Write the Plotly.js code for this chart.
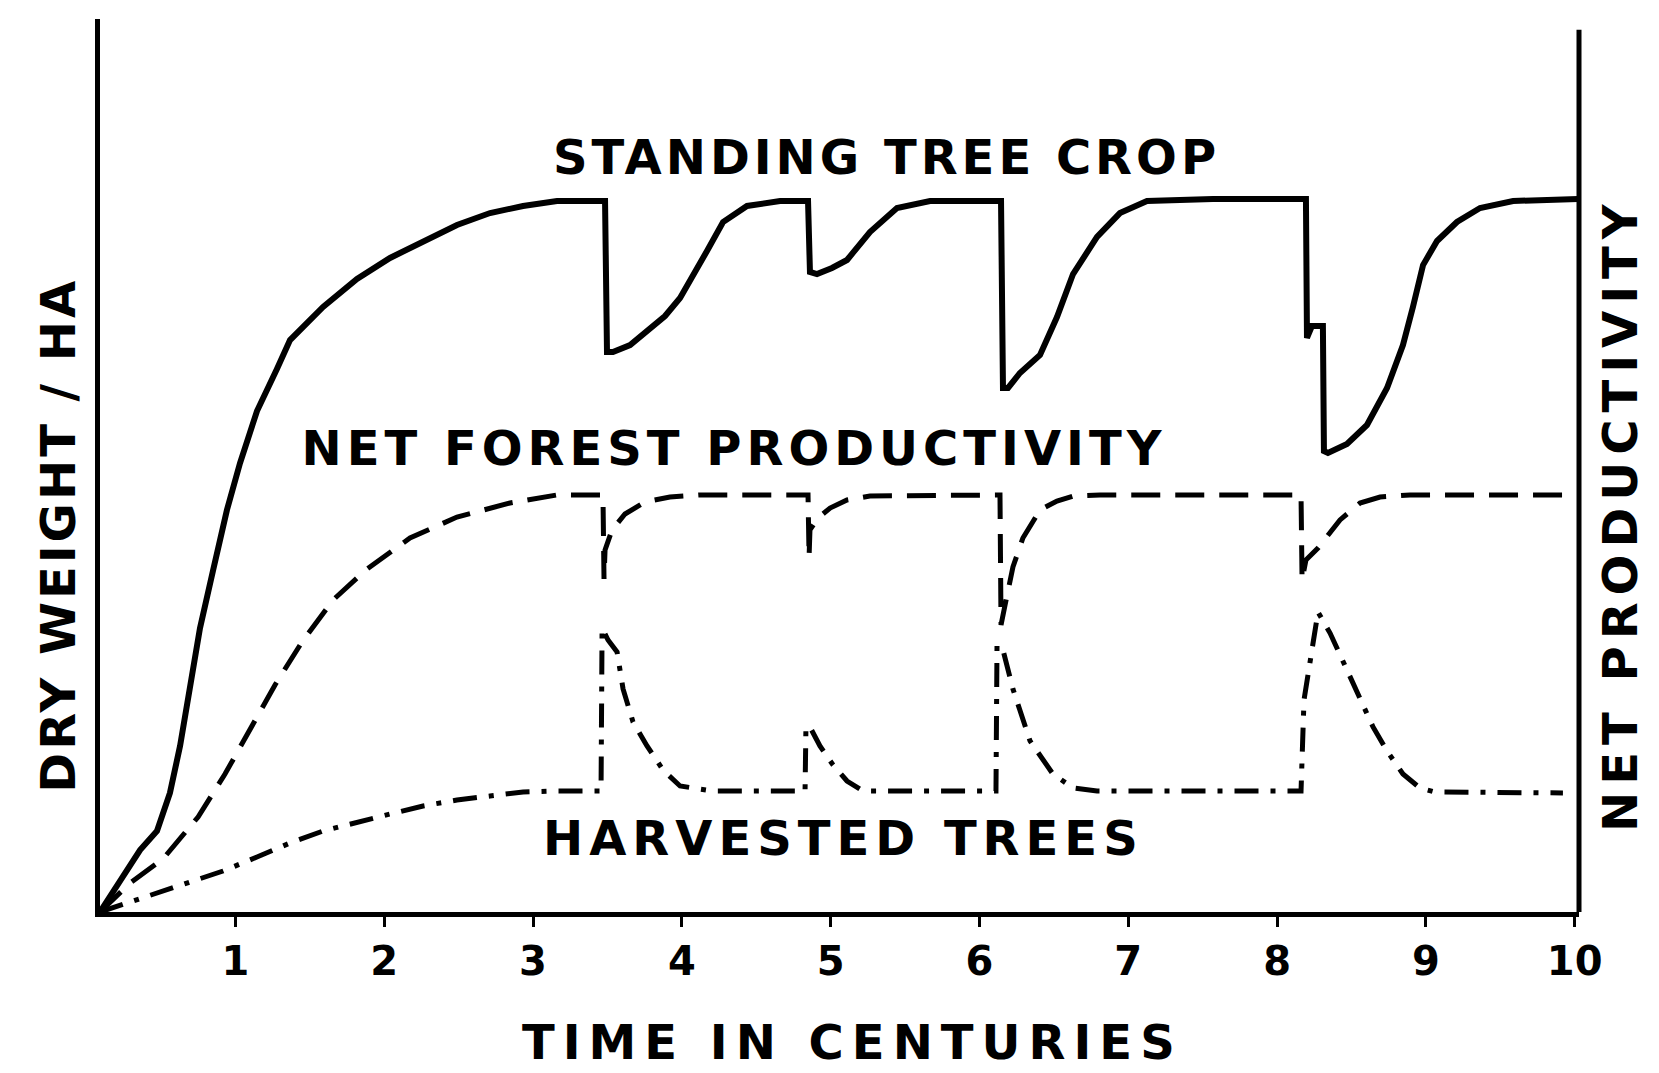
<!DOCTYPE html>
<html>
<head>
<meta charset="utf-8">
<script src="https://cdn.plot.ly/plotly-3.0.1.min.js"></script>
<style>
html,body{margin:0;padding:0;background:#fff;}
#chart{width:1659px;height:1073px;}
</style>
</head>
<body>
<div id="chart"></div>
<script>
// ---- data (time in centuries, dry weight in relative units) ----
const standX = [0.09,0.245,0.359,0.473,0.560,0.628,0.695,0.762,0.849,0.943,1.031,1.145,1.279,1.367,1.589,1.817,2.039,2.261,2.489,2.711,2.933,3.161,3.484,3.497,3.537,3.652,3.766,3.887,3.988,4.082,4.169,4.277,4.438,4.660,4.848,4.861,4.908,5.009,5.110,5.264,5.446,5.668,6.145,6.158,6.192,6.272,6.407,6.521,6.629,6.790,6.944,7.126,7.569,8.194,8.201,8.234,8.308,8.315,8.342,8.470,8.604,8.739,8.846,8.913,8.981,9.075,9.209,9.364,9.586,10.022];
const standY = [0,4.03,6.94,9.07,13.33,18.59,24.97,31.80,38.19,45.02,50.28,56.10,60.81,64.05,67.75,70.88,73.24,75.14,76.93,78.27,79.06,79.62,79.62,62.71,62.71,63.49,65.06,66.74,68.76,71.67,74.02,77.27,79.06,79.62,79.62,71.67,71.44,72.12,73.01,76.15,78.83,79.62,79.62,58.68,58.68,60.36,62.37,66.63,71.44,75.59,78.27,79.62,79.84,79.84,64.28,65.62,65.62,51.62,51.40,52.41,54.53,58.68,63.49,67.75,72.45,75.14,77.27,78.83,79.62,79.84];

const netX = [0.09,0.292,0.513,0.749,0.930,1.098,1.266,1.447,1.656,1.884,2.173,2.489,2.845,3.161,3.470,3.477,3.484,3.531,3.618,3.752,3.920,4.122,4.848,4.855,4.861,4.915,4.996,5.110,5.264,6.138,6.145,6.172,6.225,6.292,6.407,6.521,6.629,6.810,8.161,8.168,8.194,8.275,8.342,8.423,8.557,8.692,8.893,9.968];
const netY = [0,3.25,5.94,10.64,15.45,20.38,25.42,30.23,34.94,38.41,41.88,44.23,45.80,46.70,46.70,37.29,40.54,42.78,44.57,45.91,46.47,46.70,46.70,39.75,42.78,44.12,45.24,46.14,46.58,46.70,32.14,34.38,38.63,41.88,45.02,46.02,46.58,46.70,46.70,37.18,39.42,40.76,42.10,43.90,45.80,46.47,46.70,46.70];

const harvX = [0.09,0.359,0.648,0.917,1.145,1.367,1.589,1.817,2.039,2.261,2.489,2.711,2.933,3.161,3.457,3.464,3.504,3.565,3.605,3.672,3.766,3.874,3.988,4.210,4.828,4.834,4.861,4.928,5.016,5.110,5.217,6.111,6.118,6.158,6.225,6.340,6.494,6.629,6.790,8.161,8.181,8.275,8.356,8.470,8.557,8.645,8.739,8.846,8.960,9.061,9.921];
const harvY = [0,1.46,3.02,4.59,6.16,7.73,9.07,10.08,10.97,11.87,12.54,12.99,13.44,13.55,13.55,31.80,30.46,29.11,24.97,21.28,18.59,15.90,14.11,13.55,13.55,20.72,20.72,18.59,16.46,14.67,13.55,13.55,29.90,29.34,24.97,19.15,15.45,13.89,13.55,13.55,23.74,33.59,31.24,27.10,23.85,20.72,18.03,15.45,13.89,13.44,13.33];

const tickVals = [1,2,3,4,5,6,7,8,9,10];
const tickText = ['1','2','3','4','5','6','7','8','9','10'];

const seriesNames = ['STANDING TREE CROP','NET FOREST PRODUCTIVITY','HARVESTED TREES'];
const xTitle = 'TIME IN CENTURIES';
const yTitle = 'DRY WEIGHT / HA';
const y2Title = 'NET PRODUCTIVITY';

// ---- styling ----
const FONT = 'DejaVu Sans, Liberation Sans, sans-serif';
const labelFont = {family: FONT, size: 48, color: '#000', weight: 'bold'};
const spacing = {};
spacing[seriesNames[0]] = 4;
spacing[seriesNames[1]] = 5;
spacing[seriesNames[2]] = 6;
spacing[xTitle] = 8;
spacing[yTitle] = 3;
spacing[y2Title] = 7;

const traces = [
  {x: standX, y: standY, type: 'scatter', mode: 'lines', name: seriesNames[0],
   line: {color: '#000', width: 6}, hoverinfo: 'skip'},
  {x: netX, y: netY, type: 'scatter', mode: 'lines', name: seriesNames[1],
   line: {color: '#000', width: 5, dash: '29px,15px'}, hoverinfo: 'skip'},
  {x: harvX, y: harvY, type: 'scatter', mode: 'lines', name: seriesNames[2],
   line: {color: '#000', width: 5, dash: '24px,12px,5px,12px'}, hoverinfo: 'skip'}
];

function label(text, x, y, angle) {
  return {text: text, xref: 'paper', yref: 'paper', x: x, y: y,
          xanchor: 'center', yanchor: 'middle', showarrow: false,
          textangle: angle || 0, font: labelFont};
}

const layout = {
  width: 1659, height: 1073,
  margin: {l: 100, r: 80, t: 19, b: 161},
  paper_bgcolor: '#fff', plot_bgcolor: '#fff',
  showlegend: false,
  xaxis: {
    range: [0.09, 10.029], showline: true, linewidth: 5, linecolor: '#000',
    ticks: 'outside', ticklen: 10, tickwidth: 3, tickcolor: '#000',
    tickvals: tickVals, ticktext: tickText,
    tickfont: {family: FONT, size: 40, color: '#000', weight: 'bold'},
    ticklabelstandoff: 0,
    showgrid: false, zeroline: false, fixedrange: true
  },
  yaxis: {
    range: [0, 100], showline: true, linewidth: 5, linecolor: '#000',
    ticks: '', showticklabels: false, showgrid: false, zeroline: false, fixedrange: true
  },
  shapes: [
    {type: 'line', xref: 'paper', yref: 'paper', x0: 1, x1: 1, y0: 0, y1: 0.988,
     line: {color: '#000', width: 5}}
  ],
  annotations: [
    label(seriesNames[0], 0.532, 0.845),
    label(seriesNames[1], 0.4287, 0.5196),
    label(seriesNames[2], 0.503, 0.0829),
    label(xTitle, 0.5085, -0.1456),
    label(yTitle, -0.0284, 0.422, -90),
    label(y2Title, 1.0277, 0.4457, -90)
  ]
};

Plotly.newPlot('chart', traces, layout, {displayModeBar: false, staticPlot: true}).then(function () {
  document.querySelectorAll('#chart text').forEach(function (t) {
    const s = spacing[t.textContent];
    if (s) t.style.letterSpacing = s + 'px';
  });
});
</script>
</body>
</html>
